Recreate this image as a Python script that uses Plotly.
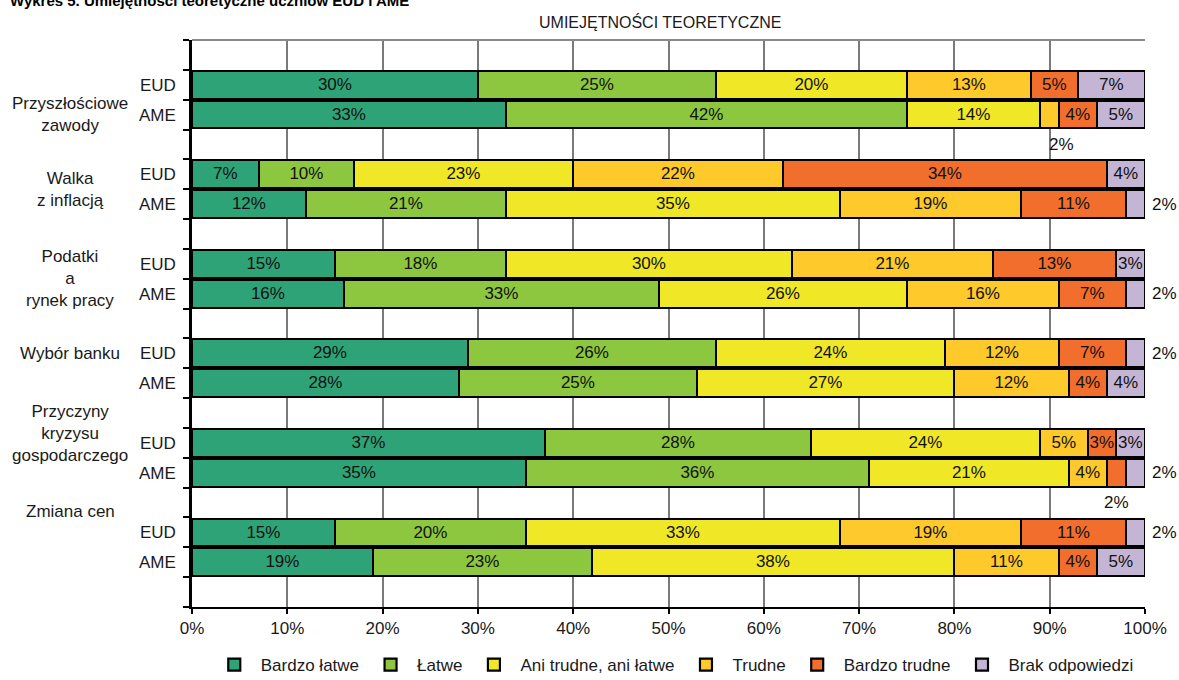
import plotly.graph_objects as go

# ---------------- data ----------------
groups = ["Przyszłościowe<br>zawody", "Walka<br>z inflacją", "Podatki<br>a<br>rynek pracy",
          "Wybór banku", "Przyczyny<br>kryzysu<br>gospodarczego", "Zmiana cen"]
schools = ["EUD", "AME"]
categories = ["Bardzo łatwe", "Łatwe", "Ani trudne, ani łatwe", "Trudne", "Bardzo trudne", "Brak odpowiedzi"]

# rows: group1 EUD, group1 AME, group2 EUD, ...
bardzo_latwe = [30, 33, 7, 12, 15, 16, 29, 28, 37, 35, 15, 19]
latwe = [25, 42, 10, 21, 18, 33, 26, 25, 28, 36, 20, 23]
ani = [20, 14, 23, 35, 30, 26, 24, 27, 24, 21, 33, 38]
trudne = [13, 2, 22, 19, 21, 16, 12, 12, 5, 4, 19, 11]
bardzo_trudne = [5, 4, 34, 11, 13, 7, 7, 4, 3, 2, 11, 4]
brak = [7, 5, 4, 2, 3, 2, 2, 4, 3, 2, 2, 5]
series = [bardzo_latwe, latwe, ani, trudne, bardzo_trudne, brak]

colors = ["#2ea377", "#8dc63f", "#f0e826", "#fec92b", "#f26e2c", "#c4b5d5"]

x_ticks = list(range(0, 101, 10))
title_text = "UMIEJĘTNOŚCI TEORETYCZNE"
top_title = "Wykres 5. Umiejętności teoretyczne uczniów EUD i AME"

# ---------------- layout helpers ----------------
FONT = "Liberation Sans, Arial, sans-serif"
FS = 17
W, H = 1179, 680
ML, MR, MT, MB = 192, 34, 40, 73
PH = H - MT - MB  # plot height in px

# each group uses 3 slots: EUD, AME, blank ; one blank slot on top
row_y = []
row_lbl = []
for g in range(len(groups)):
    for s, sc in enumerate(schools):
        row_y.append(3 * g + 1 + s)
        row_lbl.append(sc)
n_slots = 3 * len(groups) + 1

fig = go.Figure()
for cat, vals, col in zip(categories, series, colors):
    fig.add_trace(go.Bar(
        x=vals, y=row_y, orientation="h", name=cat,
        marker=dict(color=col, line=dict(color="black", width=2.2)),
        width=0.93,
        text=["" if v <= 2 else f"{v}%" for v in vals],
        textposition="inside", insidetextanchor="middle", textangle=0,
        constraintext="none",
        textfont=dict(color="#111111", size=FS, family=FONT),
        hoverinfo="x+name",
    ))

annotations = []
# outside labels for 2% segments
for ci, vals in enumerate(series):
    for ri, v in enumerate(vals):
        if v <= 2:
            start = sum(series[k][ri] for k in range(ci))
            if ci == len(series) - 1:
                annotations.append(dict(x=100, y=row_y[ri], xref="x", yref="y", text=f"{v}%",
                                        showarrow=False, xanchor="left", xshift=5,
                                        font=dict(size=FS, color="#111111", family=FONT)))
            else:
                annotations.append(dict(x=start + v / 2, y=row_y[ri] + 1, xref="x", yref="y",
                                        text=f"{v}%", showarrow=False, xanchor="center",
                                        xshift=12 if ci == 3 else 0,
                                        font=dict(size=FS, color="#111111", family=FONT)))

# group labels
group_y = [2.0, 4.5, 7.5, 10.0, 12.7, 15.3]
for gname, gy in zip(groups, group_y):
    annotations.append(dict(x=-0.128, y=gy, xref="paper", yref="y", text=gname,
                            showarrow=False, xanchor="center", yanchor="middle", align="center",
                            font=dict(size=FS, color="#1a1a1a", family=FONT)))

annotations.append(dict(x=0.491, y=1 + (MT - 22) / PH, xref="paper", yref="paper", text=title_text,
                        showarrow=False, xanchor="center", yanchor="middle",
                        font=dict(size=FS - 1, color="#1a1a1a", family=FONT)))
annotations.append(dict(x=(8 - ML) / 953, y=1 + (MT - 1) / PH, xref="paper", yref="paper",
                        text=f"<b>{top_title}</b>",
                        showarrow=False, xanchor="left", yanchor="middle",
                        font=dict(size=15, color="black", family=FONT)))

shapes = [dict(type="line", xref="x domain", yref="y domain", x0=0, x1=1, y0=1, y1=1,
               line=dict(color="#8a8a8a", width=2))]

fig.update_layout(
    width=W, height=H,
    margin=dict(l=ML, r=MR, t=MT, b=MB, autoexpand=False),
    paper_bgcolor="white", plot_bgcolor="white",
    barmode="stack", bargap=0,
    uniformtext=dict(minsize=FS, mode="show"),
    font=dict(family=FONT, size=FS, color="#1a1a1a"),
    showlegend=True,
    legend=dict(orientation="h", x=0.505, xanchor="center", y=-(665 - (H - MB)) / PH,
                yanchor="middle",
                font=dict(size=FS, family=FONT, color="#1a1a1a"), traceorder="normal",
                itemwidth=43, tracegroupgap=0, bgcolor="rgba(0,0,0,0)"),
    annotations=annotations,
    shapes=shapes,
)
fig.update_xaxes(range=[0, 100], tickvals=x_ticks, ticktext=[f"{v}%" for v in x_ticks],
                 showgrid=True, gridcolor="#7a7a7a", gridwidth=1.6,
                 showline=True, linecolor="black", linewidth=2,
                 ticks="outside", ticklen=5, tickcolor="black", tickwidth=1.5,
                 tickfont=dict(size=FS, family=FONT, color="#1a1a1a"), zeroline=False,
                 fixedrange=True)
fig.update_yaxes(range=[n_slots - 0.5, -0.5], tickvals=row_y, ticktext=row_lbl,
                 showgrid=False, zeroline=False,
                 showline=True, linecolor="black", linewidth=2.5,
                 ticks="", ticklabelstandoff=10,
                 tickfont=dict(size=FS, family=FONT, color="#1a1a1a"),
                 minor=dict(tickvals=[k - 0.5 for k in range(n_slots + 1)], ticks="outside",
                            ticklen=6, tickcolor="black", tickwidth=1.5, showgrid=False),
                 fixedrange=True)

fig.write_html("out.html", config={"displayModeBar": False},
               post_script="document.body.style.margin='0px';document.body.style.overflow='hidden';")
